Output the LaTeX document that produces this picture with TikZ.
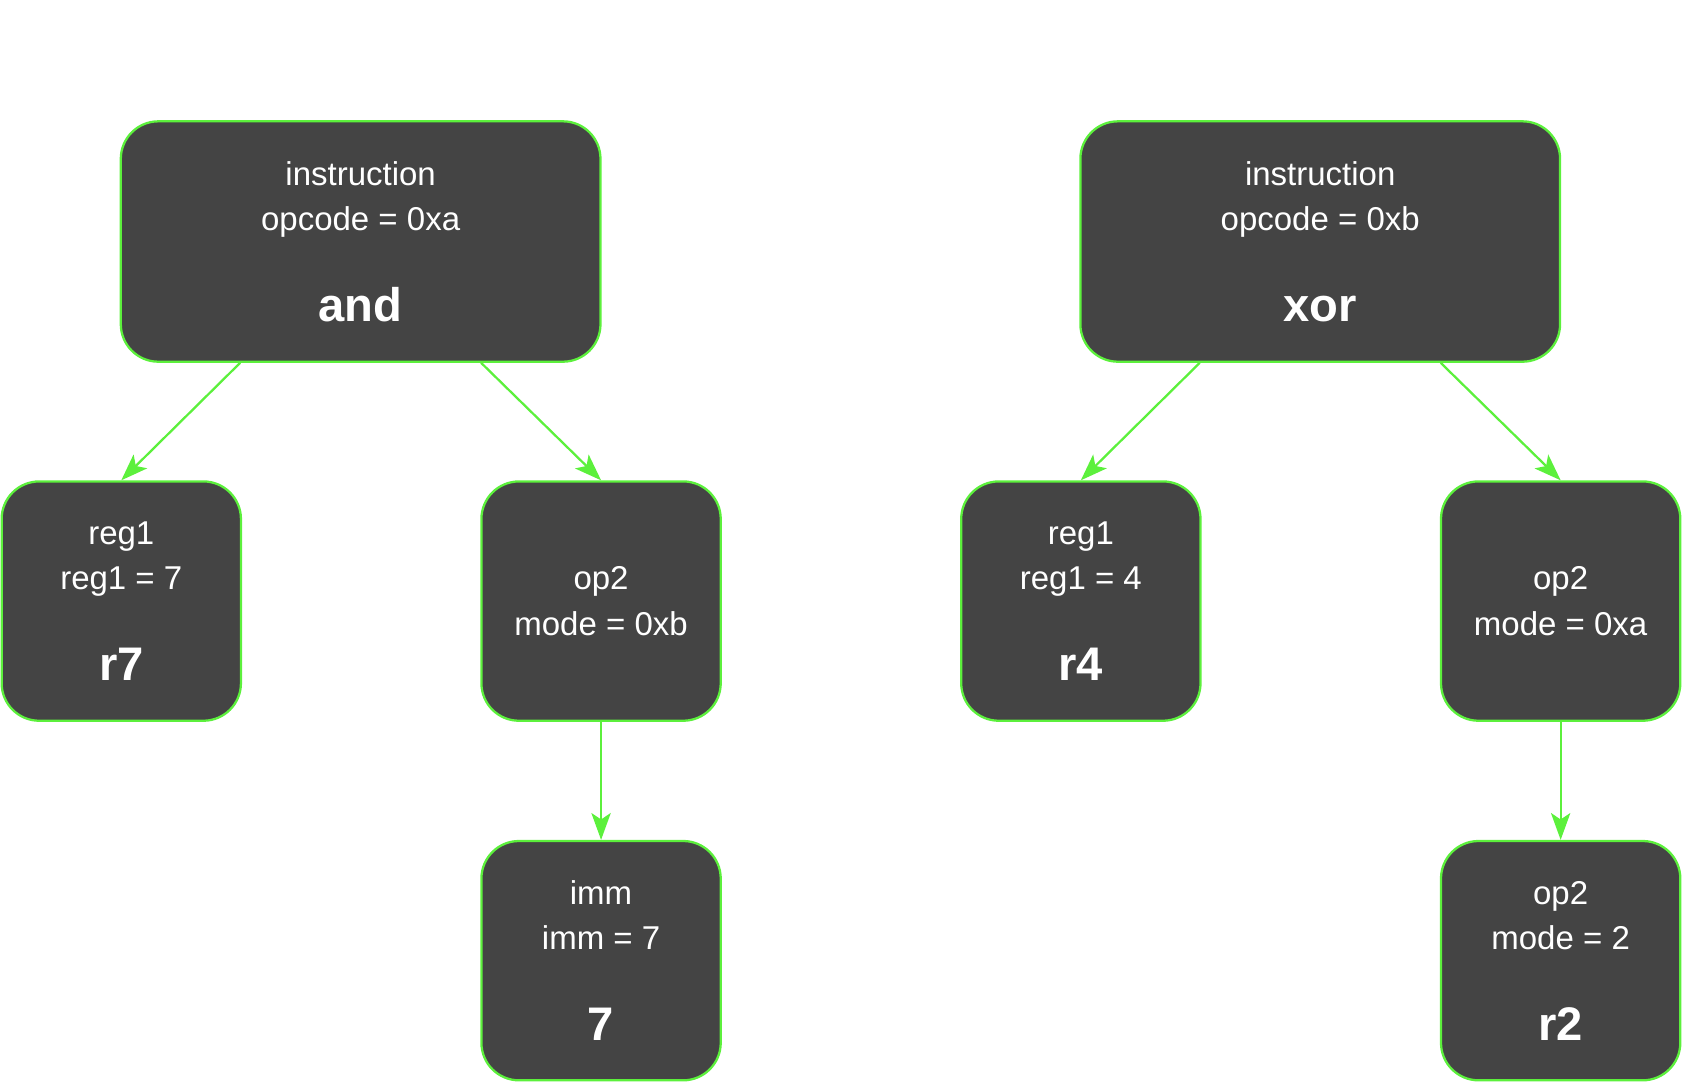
\documentclass[tikz,border=0pt]{standalone}
\usepackage{fontspec}
\setmainfont{Liberation Sans}
\usetikzlibrary{arrows.meta,calc}
\definecolor{boxfill}{HTML}{444444}
\definecolor{edgegreen}{HTML}{5CF03C}
\tikzset{
  tnode/.style={draw=edgegreen, line width=1.2pt, fill=boxfill, rounded corners=0.7cm,
    text=white, align=center, font=\fontsize{17.5}{24}\selectfont, inner sep=0pt},
  big/.style={minimum width=8.94cm, minimum height=4.48cm},
  small/.style={minimum width=4.46cm, minimum height=4.46cm},
  link/.style={edgegreen, line width=1.2pt, -{Stealth[length=0.5cm,width=0.36cm,inset=0.12cm]}}
}
\newcommand{\bigword}[1]{\\[2pt]\\[-2pt]{\fontsize{25}{30}\selectfont\bfseries #1}}
\begin{document}
\begin{tikzpicture}[x=0.02cm,y=-0.02cm]
  \useasboundingbox (0,0) rectangle (1568,1009);
  \node[tnode, big] (and) at (336,225) {instruction\\opcode = 0xa\bigword{and}};
  \node[tnode, small] (reg1a) at (113,560) {reg1\\reg1 = 7\bigword{r7}};
  \node[tnode, small] (op2a) at (560,560) {op2\\mode = 0xb};
  \node[tnode, small] (imm) at (560,895) {imm\\imm = 7\bigword{7}};
  \node[tnode, big] (xor) at (1230,225) {instruction\\opcode = 0xb\bigword{xor}};
  \node[tnode, small] (reg1b) at (1007,560) {reg1\\reg1 = 4\bigword{r4}};
  \node[tnode, small] (op2b) at (1454,560) {op2\\mode = 0xa};
  \node[tnode, small] (op2c) at (1454,895) {op2\\mode = 2\bigword{r2}};

  \foreach \src/\left/\right in {and/reg1a/op2a, xor/reg1b/op2b} {
    \draw[link] ($(\src.south west)!0.25!(\src.south east)$) -- (\left.north);
    \draw[link] ($(\src.south west)!0.75!(\src.south east)$) -- (\right.north);
  }
  \draw[link] (op2a) -- (imm);
  \draw[link] (op2b) -- (op2c);
\end{tikzpicture}
\end{document}
